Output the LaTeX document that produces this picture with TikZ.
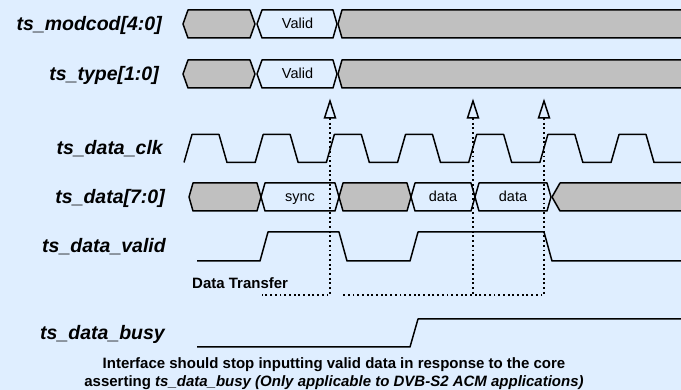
\documentclass[tikz,border=0pt]{standalone}
\usepackage{fontspec}
\setmainfont{Liberation Sans}
\usetikzlibrary{calc}
\definecolor{bg}{RGB}{223,238,255}
\definecolor{busgray}{RGB}{192,192,192}
\newcommand\tdseg[6]{\draw[bus,#6] (#1,#3) -- ({#1+#4},{#3-14}) -- ({#2-#5},{#3-14}) -- (#2,#3) -- ({#2-#5},{#3+14}) -- ({#1+#4},{#3+14}) -- cycle;}
\begin{document}
\begin{tikzpicture}[x=1pt,y=-1pt,
  wave/.style={line width=1.5pt, line join=round},
  bus/.style={line width=1.5pt, line join=round},
  grayseg/.style={fill=busgray},
  siglabel/.style={inner sep=0pt, anchor=base east, font=\fontsize{19.5}{22}\selectfont\bfseries\itshape},
  bustext/.style={inner sep=0pt, anchor=base, font=\fontsize{14.5}{16}\selectfont},
  note/.style={inner sep=0pt, anchor=base, font=\fontsize{15}{17}\selectfont\bfseries},
  dotline/.style={line width=1.9pt, dash pattern=on 1.9pt off 2.8pt},
  arrowhead/.style={line width=1.5pt, fill=bg, line join=miter}]
\fill[bg] (0,0) rectangle (681,390);
\useasboundingbox (0,0) rectangle (681,390);
% labels
\node[siglabel] (lmod) at (162,30.5) {ts\_modcod[4:0]};
\node[siglabel] (ltype) at (159,80.5) {ts\_type[1:0]};
\node[siglabel] (lclk) at (163,154.5) {ts\_data\_clk};
\node[siglabel] (ldata) at (165,203.5) {ts\_data[7:0]};
\node[siglabel] (lvalid) at (166,252.5) {ts\_data\_valid};
\node[siglabel] (lbusy) at (165,340) {ts\_data\_busy};
\begin{scope}
\clip (0,0) rectangle (681,390);
% ts_modcod
\tdseg{183}{255}{24}{5}{5}{grayseg}
\tdseg{257}{337}{24}{5}{4}{}
\tdseg{338}{720}{24}{4}{5}{grayseg}
% ts_type
\tdseg{183}{255}{74}{5}{5}{grayseg}
\tdseg{257}{337}{74}{5}{4}{}
\tdseg{338}{720}{74}{4}{5}{grayseg}
% ts_data
\tdseg{189}{261}{197}{4}{4}{grayseg}
\tdseg{261}{339}{197}{4}{4}{}
\tdseg{339}{411}{197}{4}{4}{grayseg}
\tdseg{411}{475}{197}{4}{4}{}
\tdseg{475}{551}{197}{4}{4}{}
\tdseg{552}{720}{197}{8}{4}{grayseg}
% clock
\draw[wave] (184,162.5) foreach \k in {0,...,6} { -- ({184+71.17*\k+8},134.5) -- ({184+71.17*\k+35},134.5) -- ({184+71.17*\k+43},162.5) -- ({184+71.17*\k+71.17},162.5) };
% valid
\draw[wave] (197,261) -- (260,261) -- (268,232) -- (339,232) -- (347,261) -- (410,261) -- (418,232) -- (544,232) -- (552,261) -- (685,261);
% busy
\draw[wave] (197,347) -- (410,347) -- (418,319) -- (685,319);
\end{scope}
% bus texts
\node[bustext] (v1) at (297.5,29) {Valid};
\node[bustext] (v2) at (297.5,79) {Valid};
\node[bustext] (s1) at (300,202) {sync};
\node[bustext] (d1) at (443,202) {data};
\node[bustext] (d2) at (513,202) {data};
% dotted markers
\coordinate (a1) at (330,118);
\coordinate (a2) at (473,118);
\coordinate (a3) at (544,118);
\coordinate (b1) at (330,295);
\coordinate (b2) at (473,295);
\coordinate (b3) at (544,295);
\coordinate (c1) at (262,295);
\coordinate (c2) at (341,295);
\draw[dotline] (a1) -- (b1) -- (c1);
\draw[dotline] (a2) -- (b2);
\draw[dotline] (a3) -- (b3) -- (c2);
\foreach \p in {a1,a2,a3} {
  \draw[arrowhead] ($(\p)+(0,-17)$) -- ($(\p)+(-5.5,0)$) -- ($(\p)+(5.5,0)$) -- cycle;
}
% notes
\node[note, anchor=base west] (dt) at (192,289) {Data Transfer};
\node[note] (n1) at (334,369) {Interface should stop inputting valid data in response to the core};
\node[note] (n2) at (334,387) {asserting \textit{ts\_data\_busy (Only applicable to DVB-S2 ACM applications)}};
\end{tikzpicture}
\end{document}
